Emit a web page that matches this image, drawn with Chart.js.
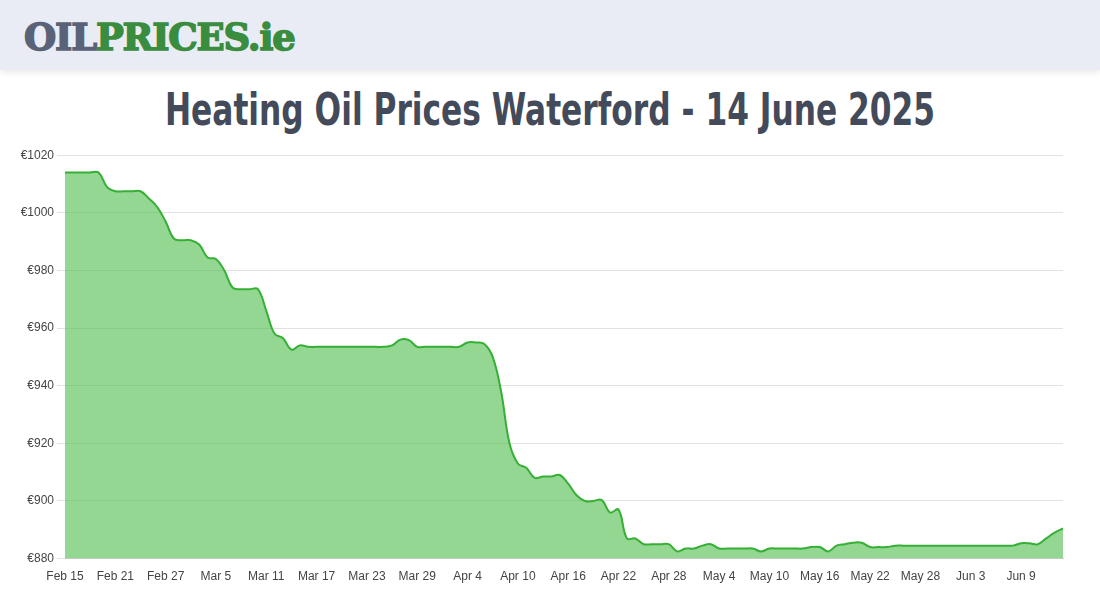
<!DOCTYPE html>
<html><head><meta charset="utf-8">
<script src="https://cdn.jsdelivr.net/npm/chart.js@4"></script>
<style>
body{margin:0;background:#fff;width:1100px;height:600px;overflow:hidden;font-family:"Liberation Sans",Arial,sans-serif}
#hdr{position:absolute;left:0;top:0;width:1100px;height:70px;background:#e9ecf4;box-shadow:0 3px 6px rgba(0,0,0,0.08)}
#logo{position:absolute;left:24px;top:15px;font-family:"DejaVu Serif",serif;font-weight:900;font-size:37px;letter-spacing:-1.2px;-webkit-text-stroke:1.5px currentColor}
#title{position:absolute;left:0;top:84px;width:1100px;text-align:center;font-family:"DejaVu Sans Condensed","DejaVu Sans",sans-serif;font-weight:bold;font-size:44px;color:#434a59;transform:scaleX(0.79)}
#wrap{position:absolute;left:0;top:145px;width:1100px;height:442px}
</style></head><body>
<div id="hdr"><div id="logo"><span style="color:#5a6278">OIL</span><span style="color:#3a8c3f">PRICES.ie</span></div></div>
<div id="title">Heating Oil Prices Waterford - 14 June 2025</div>
<div id="wrap"><canvas id="c"></canvas></div>
<script>
const startDate = [2025, 1, 15]; // Feb 15
const prices = [1014,1014,1014,1014,1014,1009,1007.5,1007.5,1007.5,1007.5,
1005,1002,997,991,990.5,990.5,989,984.5,984,980,974,973.5,973.5,973.5,966,958,956.5,952.5,954,
953.5,953.5,953.5,953.5,953.5,953.5,953.5,953.5,953.5,953.5,
954,956,955.8,953.5,
953.5,953.5,953.5,953.5,953.5,
955,955,954.5,950,938,920,913,911.5,908,908.5,908.5,909,906,902,900,900,900.3,896,897,887,887,885,885,885,885,882.5,883.5,883.5,884.5,885,883.5,
883.5,883.5,883.5,883.5,
882.5,
883.5,883.5,883.5,883.5,883.5,
884,884,882.5,884.5,885,885.5,885.5,884,884,884,
884.5,884.5,884.5,884.5,884.5,884.5,884.5,884.5,884.5,884.5,884.5,884.5,884.5,884.5,884.5,
885.3,885.3,885,887,889,890.5];
const monthNames = ["Jan","Feb","Mar","Apr","May","Jun","Jul"];
const labels = prices.map((_, i) => {
  const d = new Date(Date.UTC(startDate[0], startDate[1], startDate[2] + i));
  return monthNames[d.getUTCMonth()] + " " + d.getUTCDate();
});
const yTicks = [880,900,920,940,960,980,1000,1020];

new Chart(document.getElementById('c'), {
  type: 'line',
  data: { labels, datasets: [{
    data: prices, borderColor: '#35b035', backgroundColor: 'rgba(80,190,80,0.62)',
    fill: 'origin', tension: 0.4, pointRadius: 0, borderWidth: 2
  }]},
  options: {
    responsive: true, maintainAspectRatio: false, animation: false,
    layout: { padding: { right: 37, top: 6, left: 0, bottom: 0 } },
    plugins: { legend: { display: false }, tooltip: { enabled: false } },
    scales: {
      x: { offset: false,
        grid: { display: false },
        border: { color: '#ccc' },
        ticks: { autoSkip: false, maxRotation: 0, color: '#444', font: { size: 12, family: 'Liberation Sans' },
          callback: function(v, i){ return i % 6 === 0 && i <= 114 ? labels[i] : null; } }
      },
      y: { min: 880, max: 1020,
        afterFit: s => { s.width = 65; },
        afterBuildTicks: s => { s.ticks = yTicks.map(v => ({ value: v })); },
        grid: { color: '#e2e2e2' },
        border: { display: false },
        ticks: { color: '#444', font: { size: 12, family: 'Liberation Sans' }, callback: v => '€' + v }
      }
    }
  }
});
</script></body></html>
